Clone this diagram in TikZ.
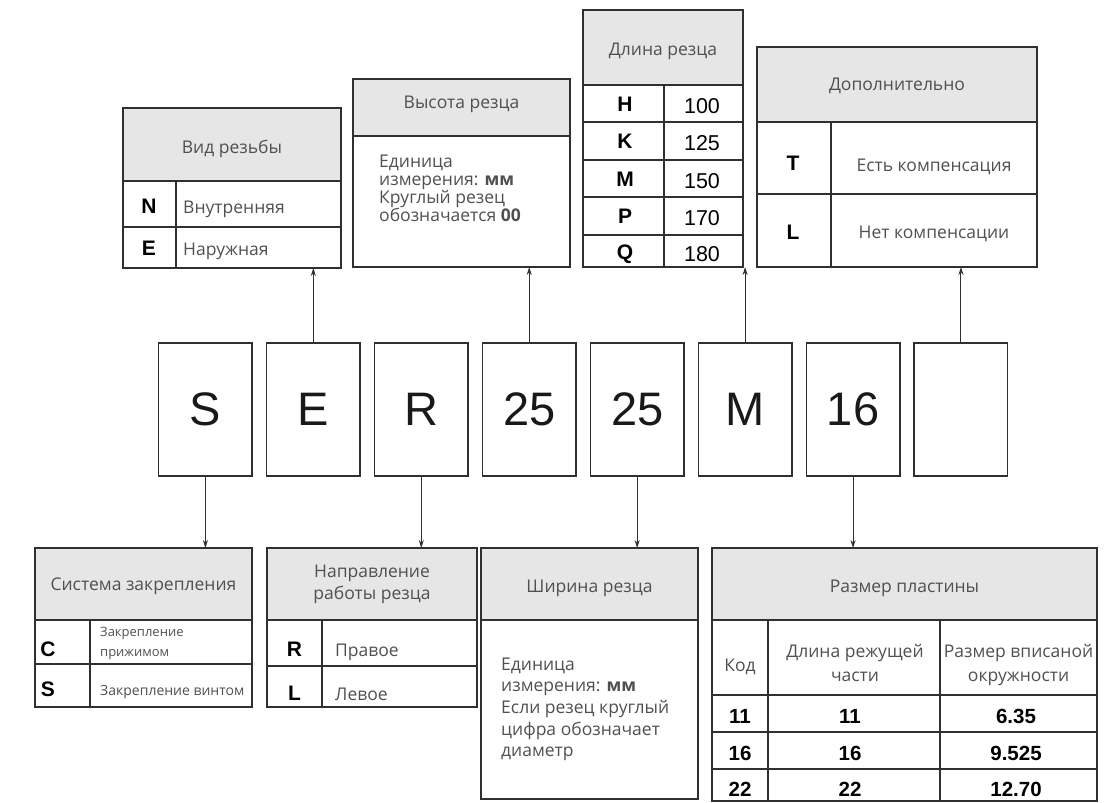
\documentclass[tikz,border=0pt]{standalone}
\usepackage{fontspec}
\setmainfont{Open Sans}
\newfontfamily\arialf{Liberation Sans}
\usetikzlibrary{arrows.meta}
\definecolor{linec}{HTML}{303030}
\definecolor{hdrc}{HTML}{E6E6E6}
\definecolor{txtc}{HTML}{505050}
\begin{document}
\begin{tikzpicture}[x=1pt,y=-1pt,
 frame/.style={draw=linec, line width=1.7pt, inner sep=0pt, outer sep=0pt, anchor=north west},
 gridl/.style={draw=linec, line width=1.3pt},
 hline/.style={draw=linec, line width=1.7pt},
 hdrtxt/.style={font=\fontsize{17.5}{21}\selectfont, text=txtc, inner sep=0pt, anchor=base},
 bodytxt/.style={font=\fontsize{17.5}{21}\selectfont, text=txtc, inner sep=0pt, anchor=base west},
 ctrtxt/.style={font=\fontsize{17.5}{21}\selectfont, text=txtc, inner sep=0pt, anchor=base},
 smalltxt/.style={font=\fontsize{13}{16}\selectfont, text=txtc, inner sep=0pt, anchor=base west},
 codetxt/.style={font=\arialf\bfseries\fontsize{21}{21}\selectfont, text=black, inner sep=0pt, anchor=base},
 numtxt/.style={font=\arialf\fontsize{21.5}{22}\selectfont, text=black, inner sep=0pt, anchor=base},
 numbold/.style={font=\arialf\bfseries\fontsize{20.5}{21}\selectfont, text=black, inner sep=0pt, anchor=base},
 midbox/.style={draw=linec, line width=1.5pt, minimum width=93.5pt, minimum height=133pt, inner sep=0pt, outer sep=0pt, font=\arialf\fontsize{47}{47}\selectfont, text=black!90},
 arr/.style={draw=linec, line width=1pt, -{Stealth[length=8pt,width=5pt]}}
]
\useasboundingbox (0,0) rectangle (1119,803);

% ---------- header fills ----------
\fill[hdrc] (123,108) rectangle (341,181);
\fill[hdrc] (353,79) rectangle (570,136);
\fill[hdrc] (583,10) rectangle (743,85);
\fill[hdrc] (757,47) rectangle (1037,122);
\fill[hdrc] (35,548) rectangle (252,620);
\fill[hdrc] (267,548) rectangle (477,620);
\fill[hdrc] (481,548) rectangle (698,620);
\fill[hdrc] (712,548) rectangle (1097,620);

% ---------- frames ----------
\node[frame, minimum width=218pt, minimum height=160pt] (vid) at (123,108) {};
\node[frame, minimum width=217pt, minimum height=188pt] (vys) at (353,79) {};
\node[frame, minimum width=160pt, minimum height=257pt] (dlina) at (583,10) {};
\node[frame, minimum width=280pt, minimum height=220pt] (dop) at (757,47) {};
\node[frame, minimum width=217pt, minimum height=159pt] (sys) at (35,548) {};
\node[frame, minimum width=210pt, minimum height=159pt] (napr) at (267,548) {};
\node[frame, minimum width=217pt, minimum height=251pt] (shir) at (481,548) {};
\node[frame, minimum width=385pt, minimum height=253pt] (razm) at (712,548) {};

% ---------- Вид резьбы ----------
\draw[hline] (123,181) -- (341,181);
\draw[gridl] (123,227) -- (341,227);
\draw[gridl] (176,181) -- (176,268);
\node[hdrtxt] (vidh) at (232,153) {Вид резьбы};
\node[codetxt] (vidc1) at (149,213) {N};
\node[codetxt] (vidc2) at (149,255) {E};
\node[bodytxt] (vidt1) at (183,213) {Внутренняя};
\node[bodytxt] (vidt2) at (183,255) {Наружная};

% ---------- Высота резца ----------
\draw[hline] (353,136) -- (570,136);
\node[hdrtxt] (vysh) at (461.5,108.5) {Высота резца};
\node[bodytxt] (vys1) at (379,167.3) {Единица};
\node[bodytxt] (vys2) at (379,185.5) {измерения: \textbf{мм}};
\node[bodytxt] (vys3) at (379,203.7) {Круглый резец};
\node[bodytxt] (vys4) at (379,221.9) {обозначается \textbf{00}};

% ---------- Длина резца ----------
\draw[hline] (583,85) -- (743,85);
\draw[gridl] (583,122) -- (743,122);
\draw[gridl] (583,160) -- (743,160);
\draw[gridl] (583,197) -- (743,197);
\draw[gridl] (583,235) -- (743,235);
\draw[gridl] (664,85) -- (664,267);
\node[hdrtxt] (dlh) at (663,55) {Длина резца};
\node[codetxt] (dlc1) at (625,111.5) {H};
\node[codetxt] (dlc2) at (625,148.5) {K};
\node[codetxt] (dlc3) at (625,186) {M};
\node[codetxt] (dlc4) at (625,223.5) {P};
\node[codetxt] (dlc5) at (625,259.5) {Q};
\node[numtxt] (dlv1) at (702,113.5) {100};
\node[numtxt] (dlv2) at (702,150.5) {125};
\node[numtxt] (dlv3) at (702,188) {150};
\node[numtxt] (dlv4) at (702,225.5) {170};
\node[numtxt] (dlv5) at (702,261) {180};

% ---------- Дополнительно ----------
\draw[hline] (757,122) -- (1037,122);
\draw[gridl] (757,194) -- (1037,194);
\draw[gridl] (831,122) -- (831,267);
\node[hdrtxt] (doph) at (897,90) {Дополнительно};
\node[codetxt] (dopc1) at (793,170) {T};
\node[codetxt] (dopc2) at (793,239.5) {L};
\node[ctrtxt] (dopt1) at (934,171) {Есть компенсация};
\node[ctrtxt] (dopt2) at (934,238.5) {Нет компенсации};

% ---------- middle boxes ----------
\node[midbox] (bS) at (205.4,409.5) {S};
\node[midbox] (bE) at (313.34,409.5) {E};
\node[midbox] (bR) at (421.28,409.5) {R};
\node[midbox] (b25a) at (529.22,409.5) {25};
\node[midbox] (b25b) at (637.16,409.5) {25};
\node[midbox] (bM) at (745.1,409.5) {M};
\node[midbox] (b16) at (853.04,409.5) {16};
\node[midbox] (bX) at (960.98,409.5) {};

% ---------- arrows ----------
\draw[arr] (bE.north) -- (bE.north |- vid.south);
\draw[arr] (b25a.north) -- (b25a.north |- vys.south);
\draw[arr] (bM.north) -- (bM.north |- dlina.south);
\draw[arr] (bX.north) -- (bX.north |- dop.south);
\draw[arr] (bS.south) -- (bS.south |- sys.north);
\draw[arr] (bR.south) -- (bR.south |- napr.north);
\draw[arr] (b25b.south) -- (b25b.south |- shir.north);
\draw[arr] (b16.south) -- (b16.south |- razm.north);

% ---------- Система закрепления ----------
\draw[hline] (35,620) -- (252,620);
\draw[gridl] (35,664) -- (252,664);
\draw[gridl] (90,620) -- (90,707);
\node[hdrtxt] (sysh) at (143.5,590) {Система закрепления};
\node[codetxt] (sysc1) at (48,656) {C};
\node[codetxt] (sysc2) at (48,696.5) {S};
\node[smalltxt] (syst1) at (100,636) {Закрепление};
\node[smalltxt] (syst2) at (100,656) {прижимом};
\node[smalltxt, font=\fontsize{14}{16}\selectfont] (syst3) at (100,695) {Закрепление винтом};

% ---------- Направление работы резца ----------
\draw[hline] (267,620) -- (477,620);
\draw[gridl] (267,666) -- (477,666);
\draw[gridl] (322,620) -- (322,707);
\node[hdrtxt] (naprh1) at (372,577) {Направление};
\node[hdrtxt] (naprh2) at (372,599) {работы резца};
\node[codetxt] (naprc1) at (294.5,656) {R};
\node[codetxt] (naprc2) at (294.5,700) {L};
\node[bodytxt] (naprt1) at (335,656) {Правое};
\node[bodytxt] (naprt2) at (335,700) {Левое};

% ---------- Ширина резца ----------
\draw[hline] (481,620) -- (698,620);
\node[hdrtxt] (shirh) at (589.5,592) {Ширина резца};
\node[bodytxt] (shir1) at (501,670) {Единица};
\node[bodytxt] (shir2) at (501,691) {измерения: \textbf{мм}};
\node[bodytxt] (shir3) at (501,713) {Если резец круглый};
\node[bodytxt] (shir4) at (501,735) {цифра обозначает};
\node[bodytxt] (shir5) at (501,756) {диаметр};

% ---------- Размер пластины ----------
\draw[hline] (712,620) -- (1097,620);
\draw[gridl] (712,695) -- (1097,695);
\draw[gridl] (712,732) -- (1097,732);
\draw[gridl] (712,769) -- (1097,769);
\draw[gridl] (768,620) -- (768,801);
\draw[gridl] (940,620) -- (940,801);
\node[hdrtxt] (razmh) at (904.5,592) {Размер пластины};
\node[ctrtxt] (razmk) at (740,671.5) {Код};
\node[ctrtxt] (razml1) at (855,657) {Длина режущей};
\node[ctrtxt] (razml2) at (855,681) {части};
\node[ctrtxt] (razmr1) at (1018.5,657) {Размер вписаной};
\node[ctrtxt] (razmr2) at (1018.5,681) {окружности};
\node[numbold] (r11a) at (740,723.5) {11};
\node[numbold] (r11b) at (850,723.5) {11};
\node[numbold] (r11c) at (1016,723.5) {6.35};
\node[numbold] (r16a) at (740,760) {16};
\node[numbold] (r16b) at (850,760) {16};
\node[numbold] (r16c) at (1016,760) {9.525};
\node[numbold] (r22a) at (740,796.5) {22};
\node[numbold] (r22b) at (850,796.5) {22};
\node[numbold] (r22c) at (1016,796.5) {12.70};
\end{tikzpicture}
\end{document}
